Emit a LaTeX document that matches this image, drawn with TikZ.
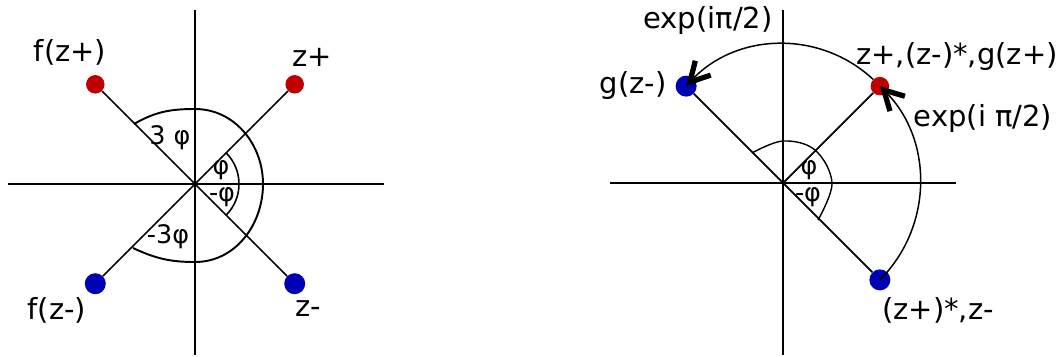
\documentclass[tikz,border=0pt]{standalone}
\usepackage{fontspec}
\setmainfont{DejaVu Sans}
\usetikzlibrary{arrows.meta}

\definecolor{dotred}{HTML}{C00000}
\definecolor{dotblue}{HTML}{0000B4}

\begin{document}
\begin{tikzpicture}[x=0.02cm, y=0.02cm,
    axis/.style={line width=1.4pt},
    ray/.style={line width=1pt},
    reddot/.style={circle, fill=dotred, inner sep=0pt, minimum size=0.37cm},
    bluedot/.style={circle, fill=dotblue, inner sep=0pt, minimum size=0.42cm},
    lbl/.style={font=\fontsize{16.5}{19}\selectfont},
    anglbl/.style={font=\fontsize{14.5}{17}\selectfont, inner sep=0pt},
    rot/.style={line width=0.85pt, -{Straight Barb[length=11pt, width=12pt, line width=3pt]}}]
    \useasboundingbox (0,0) rectangle (1064,356);

    \def\rL{141}    % distance of the points, left plane
    \def\rR{137}    % distance of the points, right plane

    % Left plane: z and f(z)
    \begin{scope}[shift={(195,172)}]
        \coordinate (oL) at (0,0);
        \draw[axis] (-187,0) -- (189,0);
        \draw[axis] (0,174) -- (0,-171);

        \node[reddot] (fzp) at (135:\rL) {};
        \node[reddot] (zp) at (45:\rL) {};
        \node[bluedot] (fzm) at (225:\rL) {};
        \node[bluedot] (zm) at (-45:\rL) {};

        \draw[ray] (oL) -- (fzp);
        \draw[ray] (oL) -- (zp);
        \draw[ray] (oL) -- (fzm);
        \draw[ray] (oL) -- (zm);

        \draw[line width=0.9pt] (45:44) arc[start angle=45, end angle=-45, radius=44];
        \draw[line width=1.1pt] (-61,60) to[out=30, in=180] (0,75)
            to[out=0, in=90] (68,0) to[out=-90, in=0] (0,-78)
            to[out=180, in=-25] (-62,-64);

        \node[anglbl] (phL) at (26,14) {φ};
        \node[anglbl] (mphL) at (27,-13) {-φ};
        \node[anglbl] (tphL) at (-25,46) {3 φ};
        \node[anglbl] (mtphL) at (-27,-53) {-3φ};

        \node[lbl] (fzpLbl) at (-125,132) {f(z+)};
        \node[lbl] (zpLbl) at (117,127) {z+};
        \node[lbl] (fzmLbl) at (-138,-126) {f(z-)};
        \node[lbl] (zmLbl) at (113,-125) {z-};
    \end{scope}

    % Right plane: conjugate and rotation
    \begin{scope}[shift={(783,173)}]
        \coordinate (oR) at (0,0);
        \draw[axis] (-173,0) -- (173,0);
        \draw[axis] (0,173) -- (0,-172);

        \node[reddot] (zpR) at (45:\rR) {};
        \node[bluedot] (gzm) at (135:\rR) {};
        \node[bluedot] (zmR) at (-45:\rR) {};

        \draw[ray] (oR) -- (zpR);
        \draw[ray] (oR) -- (gzm);
        \draw[ray] (oR) -- (zmR);

        \draw[line width=0.8pt] plot[smooth, tension=0.6] coordinates
            {(-31,30) (0,42) (32,33) (49,0) (35,-37)};

        \node[anglbl] (phR) at (26,13) {φ};
        \node[anglbl] (mphR) at (25,-14) {-φ};

        \draw[rot] (zpR) to[bend right=45] (gzm.center);
        \draw[rot] (zmR.center) to[bend right=45] (zpR.center);

        \node[lbl] (expTop) at (-75,162) {exp(iπ/2)};
        \node[lbl] (gzmLbl) at (-150,97) {g(z-)};
        \node[lbl] (zpRLbl) at (174,126) {z+,(z-)*,g(z+)};
        \node[lbl] (expRight) at (200,65) {exp(i π/2)};
        \node[lbl] (zmRLbl) at (155,-127) {(z+)*,z-};
    \end{scope}
\end{tikzpicture}
\end{document}
